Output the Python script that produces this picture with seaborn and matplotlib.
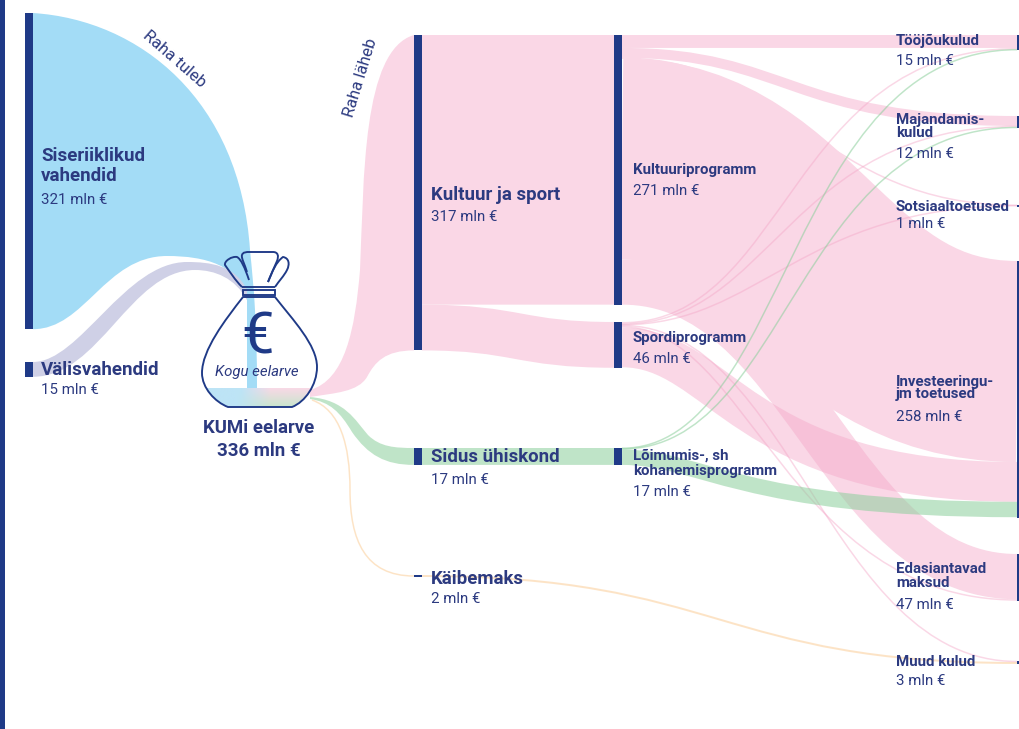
import matplotlib
matplotlib.use('Agg')
import matplotlib.pyplot as plt
from matplotlib.colors import to_rgb
from matplotlib.patches import PathPatch, Rectangle
from matplotlib.path import Path
import numpy as np
import seaborn as sns

# data, mln euros
node_names = ['Siseriiklikud', 'Välisvahendid', 'Kultuur ja sport', 'Sidus ühiskond', 'Käibemaks',
              'Kultuuriprogramm', 'Spordiprogramm', 'Lõimumis', 'Tööjõukulud', 'Majandamiskulud',
              'Sotsiaaltoetused', 'Investeeringud', 'Edasiantavad', 'Muud kulud']
node_values = [321, 15, 317, 17, 2, 271, 46, 17, 15, 12, 1, 258, 47, 3]
total_budget = 336

link_source = ['Kultuur ja sport', 'Kultuur ja sport', 'Sidus ühiskond',
               'Kultuuriprogramm', 'Kultuuriprogramm', 'Kultuuriprogramm', 'Kultuuriprogramm', 'Kultuuriprogramm',
               'Spordiprogramm', 'Spordiprogramm', 'Spordiprogramm', 'Spordiprogramm', 'Spordiprogramm', 'Spordiprogramm',
               'Lõimumis', 'Lõimumis', 'Lõimumis', 'Käibemaks']
link_target = ['Kultuuriprogramm', 'Spordiprogramm', 'Lõimumis',
               'Tööjõukulud', 'Majandamiskulud', 'Sotsiaaltoetused', 'Investeeringud', 'Edasiantavad',
               'Tööjõukulud', 'Majandamiskulud', 'Sotsiaaltoetused', 'Muud kulud', 'Edasiantavad', 'Investeeringud',
               'Tööjõukulud', 'Majandamiskulud', 'Investeeringud', 'Muud kulud']
link_value = [271, 46, 17,
              13, 10, 0.5, 202, 45.5,
              1.5, 1, 0.5, 1, 1.5, 40,
              0.5, 1, 15.5, 2]

label_titles = {'Siseriiklikud': 'Siseriiklikud\nvahendid', 'Välisvahendid': 'Välisvahendid',
                'Kultuur ja sport': 'Kultuur ja sport', 'Sidus ühiskond': 'Sidus ühiskond', 'Käibemaks': 'Käibemaks',
                'Kultuuriprogramm': 'Kultuuriprogramm', 'Spordiprogramm': 'Spordiprogramm',
                'Lõimumis': 'Lõimumis-, sh\nkohanemisprogramm', 'Tööjõukulud': 'Tööjõukulud',
                'Majandamiskulud': 'Majandamis-\nkulud', 'Sotsiaaltoetused': 'Sotsiaaltoetused',
                'Investeeringud': 'Investeeringu-\njm toetused', 'Edasiantavad': 'Edasiantavad\nmaksud',
                'Muud kulud': 'Muud kulud'}

# layout in image pixels
node_x = {'Siseriiklikud': 25, 'Välisvahendid': 25, 'Kultuur ja sport': 414, 'Sidus ühiskond': 414, 'Käibemaks': 414,
          'Kultuuriprogramm': 614, 'Spordiprogramm': 614, 'Lõimumis': 614, 'Tööjõukulud': 1017,
          'Majandamiskulud': 1017, 'Sotsiaaltoetused': 1017, 'Investeeringud': 1017, 'Edasiantavad': 1017,
          'Muud kulud': 1017}
node_top = {'Siseriiklikud': 13, 'Välisvahendid': 362, 'Kultuur ja sport': 35, 'Sidus ühiskond': 448, 'Käibemaks': 575,
            'Kultuuriprogramm': 35, 'Spordiprogramm': 322, 'Lõimumis': 448, 'Tööjõukulud': 35,
            'Majandamiskulud': 116, 'Sotsiaaltoetused': 205, 'Investeeringud': 261, 'Edasiantavad': 554,
            'Muud kulud': 661}
# x, title y, value y, title size px, line spacing
label_pos = {'Siseriiklikud': (41, 166, 200, 18.8, 1.2), 'Välisvahendid': (41, 370, 390, 18.8, 1),
             'Kultuur ja sport': (431, 195, 217, 18.7, 1), 'Sidus ühiskond': (431, 457, 480, 18.7, 1),
             'Käibemaks': (431, 579, 599, 18.7, 1), 'Kultuuriprogramm': (633, 170, 191, 15, 1),
             'Spordiprogramm': (633, 338, 359, 15, 1), 'Lõimumis': (633, 463, 492, 15, 1.14),
             'Tööjõukulud': (896, 41, 61, 15, 1), 'Majandamiskulud': (896, 126.5, 154, 15, 0.89),
             'Sotsiaaltoetused': (896, 207, 224, 15, 1), 'Investeeringud': (896, 388, 417, 15, 0.89),
             'Edasiantavad': (896, 576, 605, 15, 0.95), 'Muud kulud': (896, 662, 681, 15, 1)}
px_per_mln = 0.995
px_per_mln_in = 0.985  # the income column is drawn a little tighter
node_w = 8

NAVY = '#1f3a87'
TXT = '#2c3a80'
BLUE = '#a3dcf6'
LILAC = '#cfd0e6'
PINK_SOLID = '#fad7e6'
PINK = '#f4a8c8'
GREEN = '#8ccf9c'
ORANGE = '#fbc98e'

# bezier handle positions (fraction of the gap) for the long links
bends = {('Kultuuriprogramm', 'Majandamiskulud'): (0.42, 0.42),
         ('Kultuuriprogramm', 'Investeeringud'): (0.42, 0.5),
         ('Kultuuriprogramm', 'Edasiantavad'): (0.46, 0.54),
         ('Spordiprogramm', 'Investeeringud'): (0.25, 0.3),
         ('Spordiprogramm', 'Edasiantavad'): (0.32, 0.42),
         ('Spordiprogramm', 'Muud kulud'): (0.43, 0.52),
         ('Lõimumis', 'Tööjõukulud'): (0.42, 0.42),
         ('Lõimumis', 'Majandamiskulud'): (0.42, 0.44),
         ('Lõimumis', 'Investeeringud'): (0.2, 0.3),
         ('Spordiprogramm', 'Tööjõukulud'): (0.42, 0.42),
         ('Spordiprogramm', 'Majandamiskulud'): (0.38, 0.42),
         ('Spordiprogramm', 'Sotsiaaltoetused'): (0.35, 0.45),
         ('Kultuuriprogramm', 'Sotsiaaltoetused'): (0.42, 0.5)}

sns.set_theme(style='white')
plt.rcParams['font.family'] = ['Roboto', 'DejaVu Sans']

fig, ax = plt.subplots(figsize=(10.2, 7.29), dpi=100)
fig.subplots_adjust(0, 0, 1, 1)
ax.set_xlim(0, 1020)
ax.set_ylim(729, 0)
ax.axis('off')
sns.despine(ax=ax, left=True, bottom=True)

px = 72 / fig.dpi


def link_style(source):
    # the two budget blocks are painted flat, the rest is see-through on top of them
    if source in ('Kultuur ja sport', 'Kultuuriprogramm'):
        return PINK_SOLID, 1.0, 2.0
    if source == 'Spordiprogramm':
        return PINK, 0.45, 2.3
    if source in ('Sidus ühiskond', 'Lõimumis'):
        return GREEN, 0.55, 2.6
    return ORANGE, 0.5, 2.4


out_used = {n: 0.0 for n in node_names}
in_used = {n: 0.0 for n in node_names}
for src, trg, val in zip(link_source, link_target, link_value):
    h = val * px_per_mln
    y0 = node_top[src] + out_used[src] + h / 2
    y1 = node_top[trg] + in_used[trg] + h / 2
    out_used[src] += h
    in_used[trg] += h
    x0 = node_x[src] + node_w
    x1 = node_x[trg]
    f1, f2 = bends.get((src, trg), (0.5, 0.5))
    c1 = x0 + f1 * (x1 - x0)
    c2 = x0 + f2 * (x1 - x0)
    path = Path([(x0, y0), (c1, y0), (c2, y1), (x1, y1)],
                [Path.MOVETO, Path.CURVE4, Path.CURVE4, Path.CURVE4])
    col, alpha, z = link_style(src)
    ax.add_patch(PathPatch(path, fill=False, edgecolor=col, alpha=alpha,
                           lw=max(h, 1.5) * px, capstyle='butt', zorder=z))

M, C, L, Z = Path.MOVETO, Path.CURVE4, Path.LINETO, Path.CLOSEPOLY


def shape(start, *segments, close=True):
    # segments are either one point (line) or three points (curve)
    verts, codes = [start], [M]
    for seg in segments:
        if len(seg) == 3:
            verts += list(seg)
            codes += [C, C, C]
        else:
            verts.append(seg[0])
            codes.append(L)
    if close:
        verts.append(start)
        codes.append(Z)
    return Path(verts, codes)


top_a = node_top['Siseriiklikud']
bot_a = top_a + node_values[0] * px_per_mln_in
top_b = node_top['Välisvahendid']
bot_b = top_b + node_values[1] * px_per_mln_in
top_k = node_top['Kultuur ja sport']
bot_k = top_k + node_values[2] * px_per_mln
top_s = node_top['Sidus ühiskond']
bot_s = top_s + node_values[3] * px_per_mln
y_kb = node_top['Käibemaks'] + 1

# money coming into the bag
blue = shape((33, top_a),
             [(140, top_a + 7), (240, 100), (250, 250)],
             [(254, 290), (257, 320), (257, 390)],
             [(247, 390)],
             [(247, 300)],
             [(240, 265), (205, 256), (167, 256)],
             [(105, 256), (85, bot_a), (33, bot_a)])
ax.add_patch(PathPatch(blue, facecolor=BLUE, edgecolor='none', zorder=2))
lilac = shape((33, top_b),
              [(80, top_b), (125, 262), (187, 262)],
              [(210, 262), (235, 265), (247, 290)],
              [(247, 300)],
              [(235, 278), (215, 270), (195, 270)],
              [(130, 270), (100, bot_b), (33, bot_b)])
ax.add_patch(PathPatch(lilac, facecolor=LILAC, edgecolor='none', zorder=2.1))

# money going out of the bag
pink = shape((310, 390),
             [(345, 380), (355, 330), (360, 270)],
             [(364, 180), (362, 50), (414, top_k)],
             [(414, bot_k)],
             [(385, bot_k), (375, 362), (367, 377)],
             [(358, 392), (335, 393), (310, 397)])
ax.add_patch(PathPatch(pink, facecolor=PINK_SOLID, edgecolor='none', zorder=2))
green = shape((310, 397),
              [(345, 400), (355, 420), (368, 435)],
              [(380, 447), (395, top_s), (414, top_s)],
              [(414, bot_s)],
              [(385, bot_s), (368, 455), (352, 432)],
              [(340, 412), (330, 402), (310, 399)])
ax.add_patch(PathPatch(green, facecolor=GREEN, alpha=0.55, edgecolor='none', zorder=2))
orange = Path([(312, 400), (340, 410), (350, 445), (350, 490), (350, 540), (365, y_kb), (414, y_kb)],
              [M, C, C, C, C, C, C])
ax.add_patch(PathPatch(orange, fill=False, edgecolor=ORANGE, alpha=0.5, lw=1.5 * px, zorder=2))

# the bag
bag_body = shape((243, 297),
                 [(225, 320), (202, 350), (202, 373)],
                 [(202, 388), (215, 402), (228, 407)],
                 [(292, 407)],
                 [(305, 402), (317, 385), (317, 367)],
                 [(317, 345), (293, 320), (275, 297)])
clip = PathPatch(bag_body, transform=ax.transData, facecolor='none', edgecolor='none')
ax.add_patch(clip)
yy, xx = np.mgrid[0:1:40j, 0:1:120j]
sblue, spink, sgreen = [np.array(to_rgb(c)) for c in ('#bde4f6', '#f8d9e6', '#c9e6cd')]
up = np.clip((xx - 0.35) / 0.25, 0, 1)[..., None]
dn = np.clip((xx - 0.3) / 0.3, 0, 1)[..., None]
top_row = sblue * (1 - up) + spink * up
bot_row = sblue * (1 - dn) + sgreen * dn
grad = top_row * (1 - yy[..., None]) + bot_row * yy[..., None]
im = ax.imshow(grad, extent=(200, 318, 407, 388), aspect='auto', zorder=2.2)
im.set_clip_path(clip)
ax.set_xlim(0, 1020)
ax.set_ylim(729, 0)

bag_lw = 1.9 * px
ax.add_patch(PathPatch(bag_body, fill=False, edgecolor=NAVY, lw=bag_lw, zorder=5))
ax.add_patch(Rectangle((243, 290), 32, 4.5, fill=False, edgecolor=NAVY, lw=bag_lw, zorder=5))
petals = [
    shape((242, 287),
          [(235, 280), (230, 272), (225, 265)],
          [(224, 261), (232, 256), (237, 257)],
          [(241, 259), (245, 268), (249, 280)], close=False),
    shape((247, 272),
          [(245, 265), (241, 258), (242, 255)],
          [(243, 252), (246, 252), (250, 252)],
          [(273, 252)],
          [(278, 252), (279, 256), (277, 261)],
          [(275, 266), (272, 272), (268, 282)], close=False),
    shape((268, 282),
          [(272, 272), (276, 262), (283, 257)],
          [(289, 258), (290, 264), (287, 270)],
          [(284, 276), (279, 281), (275, 287)], close=False),
    shape((242, 287), [(275, 287)], close=False),
]
for petal in petals:
    ax.add_patch(PathPatch(petal, fill=False, edgecolor=NAVY, lw=bag_lw, zorder=5))

# nodes
for i, (name, value) in enumerate(zip(node_names, node_values)):
    scale = px_per_mln_in if i < 2 else px_per_mln
    ax.add_patch(Rectangle((node_x[name], node_top[name]), node_w, max(value * scale, 1.5),
                           facecolor=NAVY, edgecolor='none', zorder=4))
ax.axvspan(0, 5, color=NAVY, lw=0, zorder=4)

# texts
for name, value in zip(node_names, node_values):
    x, y, yv, size, spacing = label_pos[name]
    ax.text(x, y, label_titles[name], fontsize=size * px, fontweight='bold', color=TXT,
            ha='left', va='center', linespacing=spacing, zorder=6)
    ax.text(x, yv, f'{value} mln €', fontsize=15 * px, color=TXT, ha='left', va='center', zorder=6)

ax.text(259, 428, 'KUMi eelarve', fontsize=18.7 * px, fontweight='bold', color=TXT, ha='center', va='center', zorder=6)
ax.text(259, 451, f'{total_budget} mln €', fontsize=18.7 * px, fontweight='bold', color=TXT, ha='center', va='center', zorder=6)
ax.text(258, 338, '€', fontsize=58 * px, color=NAVY, ha='center', va='center', zorder=6)
ax.text(257, 372, 'Kogu eelarve', fontsize=15 * px, style='italic', color=TXT, ha='center', va='center', zorder=6)
ax.text(174, 59, 'Raha tuleb', fontsize=16.5 * px, color=TXT, ha='center', va='center', rotation=-41, zorder=6)
ax.text(361, 78, 'Raha läheb', fontsize=16.5 * px, color=TXT, ha='center', va='center', rotation=73, zorder=6)

fig.savefig('out.png', dpi=100)
